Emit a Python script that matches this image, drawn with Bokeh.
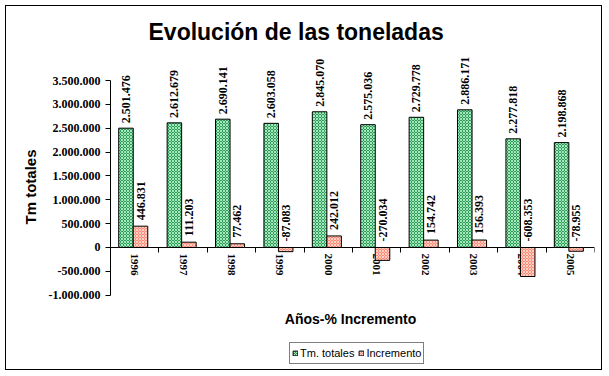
import numpy as np
from math import pi
from bokeh.plotting import figure
from bokeh.models import (ColumnDataSource, LinearAxis, FixedTicker, Range1d, Legend,
                          LegendItem, Title, LabelSet, Label)
from bokeh.core.properties import value
from bokeh.embed import file_html
from bokeh.resources import INLINE

# ---- data ----
years = ["1996", "1997", "1998", "1999", "2000", "2001", "2002", "2003", "2004", "2005"]
totales = [2501476, 2612679, 2690141, 2603058, 2845070, 2575036, 2729778, 2886171, 2277818, 2198868]
incremento = [446831, 111203, 77462, -87083, 242012, -270034, 154742, 156393, -608353, -78955]
y_ticks = [-1000000, -500000, 0, 500000, 1000000, 1500000, 2000000, 2500000, 3000000, 3500000]


def fmt(v):
    return f"{v:,}".replace(",", ".")


n = len(years)
centers = np.arange(n) + 0.5
boundaries = list(range(n + 1))

src = ColumnDataSource(dict(
    xg=centers - 0.18,
    xr=centers + 0.12,
    tot=totales,
    inc=incremento,
    inc_lab_y=np.maximum(np.array(incremento), 0),
    tot_lab=[fmt(v) for v in totales],
    inc_lab=[fmt(v) for v in incremento],
))

serif = "Liberation Serif"
sans = "Liberation Sans"

# frame extends above/below the axis span so that labels and legend are not clipped
p = figure(width=597, height=365, x_range=Range1d(0, n), y_range=Range1d(-2_600_000, 4_130_000),
           output_backend="svg", toolbar_location=None,
           min_border_left=104, min_border_right=9, min_border_top=44, min_border_bottom=0,
           background_fill_color="white", border_fill_color="white", outline_line_color=None)
p.styles = {"border": "1px solid black", "margin-left": "5px", "margin-top": "5px"}
p.xgrid.visible = False
p.ygrid.visible = False
p.xaxis.visible = False

# title
p.add_layout(Title(text="Evolución de las toneladas", text_font=sans, text_font_style="bold",
                   text_font_size="23px", text_color="black", align="left", offset=38,
                   standoff=12), "above")

# y axis
ya = p.yaxis[0]
ya.bounds = (y_ticks[0], y_ticks[-1])
ya.ticker = FixedTicker(ticks=y_ticks)
ya.major_label_overrides = {v: fmt(v) for v in y_ticks}
ya.major_label_text_font = serif
ya.major_label_text_font_style = "bold"
ya.major_label_text_font_size = "12px"
ya.major_label_text_color = "black"
ya.major_tick_in = 0
ya.major_tick_out = 5
ya.major_label_standoff = 5
ya.minor_tick_line_color = None
ya.axis_line_color = "black"
ya.major_tick_line_color = "black"

p.add_layout(Title(text="Tm totales", text_font=sans, text_font_style="bold",
                   text_font_size="15px", text_color="black", align="left", offset=147,
                   standoff=14), "left")

# zero axis: year labels at category centres, tick marks at category boundaries
zero_axis = LinearAxis(fixed_location=0,
                       ticker=FixedTicker(ticks=list(centers), minor_ticks=boundaries),
                       major_label_overrides={float(c): y for c, y in zip(centers, years)},
                       major_label_orientation=-pi / 2,
                       major_label_text_font=serif, major_label_text_font_style="bold",
                       major_label_text_font_size="11px", major_label_text_color="black",
                       major_label_standoff=1,
                       major_tick_in=0, major_tick_out=0,
                       minor_tick_in=0, minor_tick_out=5, minor_tick_line_color="black",
                       axis_line_color="black", level="underlay")
p.add_layout(zero_axis, "below")

g = p.vbar(x="xg", top="tot", bottom=0, width=0.3, source=src,
           fill_color="#2f9a5a", hatch_pattern="diagonal_cross", hatch_color="#a4eabc",
           hatch_scale=3, hatch_weight=1, line_color="black", line_width=1)
r = p.vbar(x="xr", top="inc", bottom=0, width=0.3, source=src,
           fill_color="#ff8a78", hatch_pattern="diagonal_cross", hatch_color="#ffd0c4",
           hatch_scale=3, hatch_weight=1, line_color="black", line_width=1)

p.add_layout(LabelSet(x="xg", y="tot", text="tot_lab", source=src, angle=pi / 2, y_offset=5,
                      text_align="left", text_baseline="middle", text_font=serif,
                      text_font_style="bold", text_font_size="12px", text_color="black"))
p.add_layout(LabelSet(x="xr", y="inc_lab_y", text="inc_lab", source=src, angle=pi / 2, y_offset=6,
                      text_align="left", text_baseline="middle", text_font=serif,
                      text_font_style="bold", text_font_size="12px", text_color="black"))

# x axis title
p.add_layout(Label(x=240, y=53, x_units="screen", y_units="screen", text="Años-% Incremento",
                   text_align="center", text_baseline="middle", text_font=sans,
                   text_font_style="bold", text_font_size="14px", text_color="black"))

legend = Legend(items=[LegendItem(label="Tm. totales", renderers=[g]),
                       LegendItem(label="Incremento", renderers=[r])],
                orientation="horizontal", location=(179, 7),
                border_line_color="black", border_line_width=1, padding=2, spacing=4,
                glyph_width=6, glyph_height=6, label_standoff=2, label_height=16,
                label_text_font=sans, label_text_font_size="11px", label_text_color="black",
                margin=0, background_fill_color="white", background_fill_alpha=1)
p.add_layout(legend, "center")

open("out.html", "w").write(file_html(p, INLINE))
